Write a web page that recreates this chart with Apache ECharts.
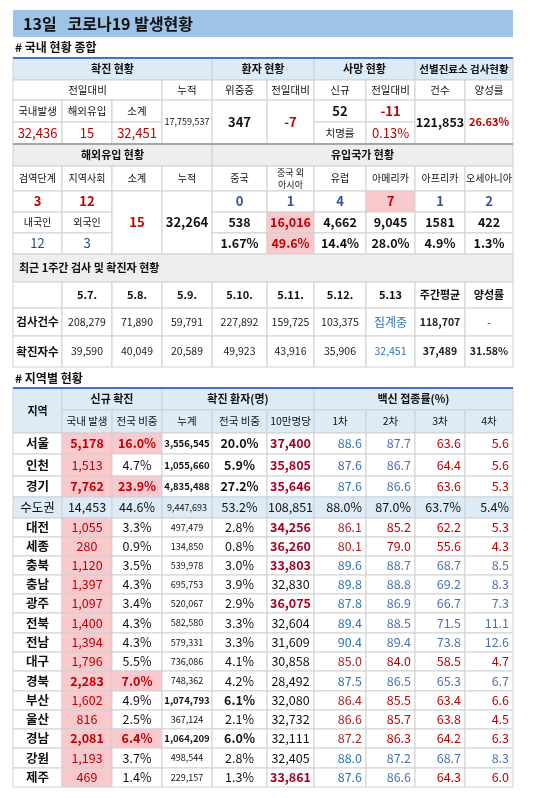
<!DOCTYPE html>
<html><head><meta charset="utf-8">
<script src="https://cdn.jsdelivr.net/npm/echarts@6/dist/echarts.min.js"></script>
<style>html,body{margin:0;background:#fff}#main{width:550px;height:798px}</style>
</head><body><div id="main"></div>
<script>
// 국내 현황 종합
var dailyLabels = ['국내발생', '해외유입', '소계'];
var dailyValues = ['32,436', '15', '32,451'];
var cumulative = '17,759,537';
var critical = ['347', '-7'];
var deaths = ['52', '-11'];
var fatality = '0.13%';
var screening = ['121,853', '26.63%'];

// 해외유입 현황
var importHeads = ['검역단계', '지역사회', '소계', '누적', '중국', '중국 외\n아시아', '유럽', '아메리카', '아프리카', '오세아니아'];
var importStage = ['3', '12'];
var importNation = ['12', '3'];
var importSub = '15';
var importCum = '32,264';
var originToday = ['0', '1', '4', '7', '1', '2'];
var originCum = ['538', '16,016', '4,662', '9,045', '1581', '422'];
var originShare = ['1.67%', '49.6%', '14.4%', '28.0%', '4.9%', '1.3%'];

// 최근 1주간
var weekDates = ['5.7.', '5.8.', '5.9.', '5.10.', '5.11.', '5.12.', '5.13', '주간평균', '양성률'];
var weekTests = ['208,279', '71,890', '59,791', '227,892', '159,725', '103,375', '집계중', '118,707', '-'];
var weekCases = ['39,590', '40,049', '20,589', '49,923', '43,916', '35,906', '32,451', '37,489', '31.58%'];

// 지역별 현황
var regions = ['서울', '인천', '경기', '수도권', '대전', '세종', '충북', '충남', '광주', '전북', '전남', '대구', '경북', '부산', '울산', '경남', '강원', '제주'];
var newDomestic = ['5,178', '1,513', '7,762', '14,453', '1,055', '280', '1,120', '1,397', '1,097', '1,400', '1,394', '1,796', '2,283', '1,602', '816', '2,081', '1,193', '469'];
var newShare = ['16.0%', '4.7%', '23.9%', '44.6%', '3.3%', '0.9%', '3.5%', '4.3%', '3.4%', '4.3%', '4.3%', '5.5%', '7.0%', '4.9%', '2.5%', '6.4%', '3.7%', '1.4%'];
var cumTotal = ['3,556,545', '1,055,660', '4,835,488', '9,447,693', '497,479', '134,850', '539,978', '695,753', '520,067', '582,580', '579,331', '736,086', '748,362', '1,074,793', '367,124', '1,064,209', '498,544', '229,157'];
var cumShare = ['20.0%', '5.9%', '27.2%', '53.2%', '2.8%', '0.8%', '3.0%', '3.9%', '2.9%', '3.3%', '3.3%', '4.1%', '4.2%', '6.1%', '2.1%', '6.0%', '2.8%', '1.3%'];
var per100k = ['37,400', '35,805', '35,646', '108,851', '34,256', '36,260', '33,803', '32,830', '36,075', '32,604', '31,609', '30,858', '28,492', '32,080', '32,732', '32,111', '32,405', '33,861'];
var vax1 = ['88.6', '87.6', '87.6', '88.0%', '86.1', '80.1', '89.6', '89.8', '87.8', '89.4', '90.4', '85.0', '87.5', '86.4', '86.6', '87.2', '88.0', '87.6'];
var vax2 = ['87.7', '86.7', '86.6', '87.0%', '85.2', '79.0', '88.7', '88.8', '86.9', '88.5', '89.4', '84.0', '86.5', '85.5', '85.7', '86.3', '87.2', '86.6'];
var vax3 = ['63.6', '64.4', '63.6', '63.7%', '62.2', '55.6', '68.7', '69.2', '66.7', '71.5', '73.8', '58.5', '65.3', '63.4', '63.8', '64.2', '68.7', '64.3'];
var vax4 = ['5.6', '5.6', '5.3', '5.4%', '5.3', '4.3', '8.5', '8.3', '7.3', '11.1', '12.6', '4.7', '6.7', '6.6', '4.5', '6.3', '8.3', '6.0'];
var vaxTone = ['bbrr', 'bbrr', 'bbrr', 'kkkk', 'rrrr', 'rrrr', 'bbbb', 'bbbb', 'bbbb', 'bbbb', 'bbbb', 'rrrr', 'bbbb', 'rrrr', 'rrrr', 'rrrr', 'bbbb', 'bbrr'];
var highlightShare = ['서울', '경기', '경북', '경남'];
var boldCum = ['서울', '인천', '경기', '부산', '경남'];
var redPer100k = ['서울', '인천', '경기', '대전', '세종', '충북', '광주', '제주'];

var X = [13, 62, 112, 162, 212, 267, 314, 366, 415, 465, 513];
var RED = '#c00000', BLUE = '#2e75b6', PINK = '#f9c9ce', LB = '#ddebf7', GRAY = '#eeeeee';
var FONT = '"Noto Sans CJK KR", sans-serif';
var els = [];

function cell(c0, c1, y0, y1, text, o) {
  o = o || {};
  var x0 = X[c0], x1 = X[c1 + 1];
  els.push({type: 'rect', shape: {x: x0, y: y0, width: x1 - x0, height: y1 - y0},
    style: {fill: o.bg || '#fff', stroke: '#d0d0d0', lineWidth: 1}});
  if (text === undefined || text === '') return;
  var align = o.align || 'center';
  var tx = align === 'right' ? x1 - 4 : align === 'left' ? x0 + 6 : (x0 + x1) / 2;
  els.push({type: 'text', z: 10, style: {text: text, x: tx, y: (y0 + y1) / 2, align: align,
    verticalAlign: 'middle', fill: o.color || '#111', lineHeight: 12,
    font: (o.bold ? 'bold ' : '') + (o.size || 12) + 'px ' + FONT}});
}
function hline(y, color, w) {
  els.push({type: 'line', z: 20, shape: {x1: X[0], y1: y, x2: X[10], y2: y}, style: {stroke: color, lineWidth: w}});
}

// title
els.push({type: 'rect', shape: {x: 13, y: 10, width: 500, height: 27}, style: {fill: '#9dc3e6'}});
els.push({type: 'text', style: {text: '13일   코로나19 발생현황', x: 23, y: 24, verticalAlign: 'middle', fill: '#111', font: 'bold 16px ' + FONT}});
els.push({type: 'text', style: {text: '# 국내 현황 종합', x: 15, y: 47, verticalAlign: 'middle', fill: '#111', font: 'bold 12px ' + FONT}});

var R = [58, 80, 100, 122, 144, 166, 191, 212, 233, 254, 282, 308, 336, 367];
cell(0, 3, R[0], R[1], '확진 현황', {bg: LB, bold: true, size: 11});
cell(4, 5, R[0], R[1], '환자 현황', {bg: LB, bold: true, size: 11});
cell(6, 7, R[0], R[1], '사망 현황', {bg: LB, bold: true, size: 11});
cell(8, 9, R[0], R[1], '선별진료소 검사현황', {bg: LB, bold: true, size: 10.5});
cell(0, 2, R[1], R[2], '전일대비', {size: 10.5});
['누적', '위중증', '전일대비', '신규', '전일대비', '건수', '양성률'].forEach(function (t, i) { cell(i + 3, i + 3, R[1], R[2], t, {size: 10.5}); });
dailyLabels.forEach(function (t, i) { cell(i, i, R[2], R[3], t, {size: 10.5}); });
dailyValues.forEach(function (t, i) { cell(i, i, R[3], R[4], t, {size: 13, color: RED}); });
cell(3, 3, R[2], R[4], cumulative, {size: 9});
cell(4, 4, R[2], R[4], critical[0], {size: 13, bold: true});
cell(5, 5, R[2], R[4], critical[1], {size: 13, bold: true, color: RED});
cell(6, 6, R[2], R[3], deaths[0], {size: 13, bold: true});
cell(7, 7, R[2], R[3], deaths[1], {size: 13, bold: true, color: RED});
cell(6, 6, R[3], R[4], '치명률', {size: 10.5});
cell(7, 7, R[3], R[4], fatality, {size: 13, color: RED});
cell(8, 8, R[2], R[4], screening[0], {size: 12.5, bold: true});
cell(9, 9, R[2], R[4], screening[1], {size: 11, bold: true, color: RED});
hline(R[0], '#4472c4', 2);
hline(R[4], '#a6a6a6', 2);

cell(0, 3, R[4], R[5], '해외유입 현황', {bg: GRAY, bold: true, size: 11});
cell(4, 9, R[4], R[5], '유입국가 현황', {bg: GRAY, bold: true, size: 11});
importHeads.forEach(function (t, i) { cell(i, i, R[5], R[6], t, {size: i === 5 ? 9 : 10}); });
importStage.forEach(function (t, i) { cell(i, i, R[6], R[7], t, {size: 13, bold: true, color: RED}); });
cell(0, 0, R[7], R[8], '내국인', {size: 10});
cell(1, 1, R[7], R[8], '외국인', {size: 10});
importNation.forEach(function (t, i) { cell(i, i, R[8], R[9], t, {size: 13, color: '#1f4e79'}); });
cell(2, 2, R[6], R[9], importSub, {size: 13, bold: true, color: RED});
cell(3, 3, R[6], R[9], importCum, {size: 13, bold: true});
originToday.forEach(function (t, i) {
  var hot = i === 3;
  cell(i + 4, i + 4, R[6], R[7], t, {size: 13, bold: true, color: hot ? RED : '#2f5597', bg: hot ? PINK : '#fff'});
});
originCum.forEach(function (t, i) {
  var hot = i === 1;
  cell(i + 4, i + 4, R[7], R[8], t, {size: 12.5, bold: true, color: hot ? RED : '#111', bg: hot ? PINK : '#fff'});
});
originShare.forEach(function (t, i) {
  var hot = i === 1;
  cell(i + 4, i + 4, R[8], R[9], t, {size: 12.5, bold: true, color: hot ? RED : '#111', bg: hot ? PINK : '#fff'});
});

cell(0, 9, R[9], R[10], '최근 1주간 검사 및 확진자 현황', {bg: GRAY, bold: true, align: 'left', size: 11});
cell(0, 0, R[10], R[11], '');
weekDates.forEach(function (t, i) { cell(i + 1, i + 1, R[10], R[11], t, {size: 11, bold: true}); });
cell(0, 0, R[11], R[12], '검사건수', {size: 11.5, bold: true});
weekTests.forEach(function (t, i) { cell(i + 1, i + 1, R[11], R[12], t, {color: i === 6 ? BLUE : '#222', bold: i === 7, size: i === 6 ? 12 : 10.5}); });
cell(0, 0, R[12], R[13], '확진자수', {size: 11.5, bold: true});
weekCases.forEach(function (t, i) { cell(i + 1, i + 1, R[12], R[13], t, {color: i === 6 ? BLUE : '#222', bold: i >= 7, size: 10.5}); });

els.push({type: 'text', style: {text: '# 지역별 현황', x: 15, y: 378, verticalAlign: 'middle', fill: '#111', font: 'bold 12px ' + FONT}});

var H = [388, 410, 433];
var RY = [433, 454, 476, 497, 518, 537, 556, 575, 594, 613, 633, 652, 671, 691, 710, 729, 748, 768, 787];
cell(0, 0, H[0], H[2], '지역', {bg: LB, bold: true, size: 11});
cell(1, 2, H[0], H[1], '신규 확진', {bg: LB, bold: true, size: 11});
cell(3, 5, H[0], H[1], '확진 환자(명)', {bg: LB, bold: true, size: 11});
cell(6, 9, H[0], H[1], '백신 접종률(%)', {bg: LB, bold: true, size: 11});
['국내 발생', '전국 비중', '누계', '전국 비중', '10만명당'].forEach(function (t, i) { cell(i + 1, i + 1, H[1], H[2], t, {bg: LB, size: 10.5}); });
['1차', '2차', '3차', '4차'].forEach(function (t, i) { cell(i + 6, i + 6, H[1], H[2], t, {bg: LB, size: 10.5}); });
hline(H[0], '#4472c4', 2);

regions.forEach(function (r, i) {
  var y0 = RY[i], y1 = RY[i + 1];
  var metro = r === '수도권';
  var bg = metro ? LB : '#fff';
  var hiShare = highlightShare.indexOf(r) >= 0;
  var bc = boldCum.indexOf(r) >= 0;
  var sz = 12.5;
  cell(0, 0, y0, y1, r, {bg: bg, bold: !metro, size: 12.5});
  cell(1, 1, y0, y1, newDomestic[i], {bg: metro ? LB : PINK, color: metro ? '#111' : RED, bold: hiShare || r === '서울', size: sz});
  cell(2, 2, y0, y1, newShare[i], {bg: metro ? LB : (hiShare ? PINK : '#fff'), color: hiShare ? RED : '#111', bold: hiShare, size: sz});
  cell(3, 3, y0, y1, cumTotal[i], {bg: bg, bold: bc, size: bc ? 9.5 : 9});
  cell(4, 4, y0, y1, cumShare[i], {bg: bg, bold: bc, size: sz});
  var rp = redPer100k.indexOf(r) >= 0;
  cell(5, 5, y0, y1, per100k[i], {bg: bg, bold: rp, color: rp ? '#a50021' : '#111', size: sz});
  [vax1, vax2, vax3, vax4].forEach(function (arr, k) {
    var t = vaxTone[i][k];
    var col = t === 'b' ? (k === 0 ? BLUE : '#4a72b0') : t === 'r' ? (k === 0 ? '#b02020' : RED) : '#111';
    cell(6 + k, 6 + k, y0, y1, arr[i], {bg: bg, color: col, align: 'right', size: sz});
  });
});

var chart = echarts.init(document.getElementById('main'));
chart.setOption({animation: false, graphic: {elements: els}});
</script>
</body></html>
